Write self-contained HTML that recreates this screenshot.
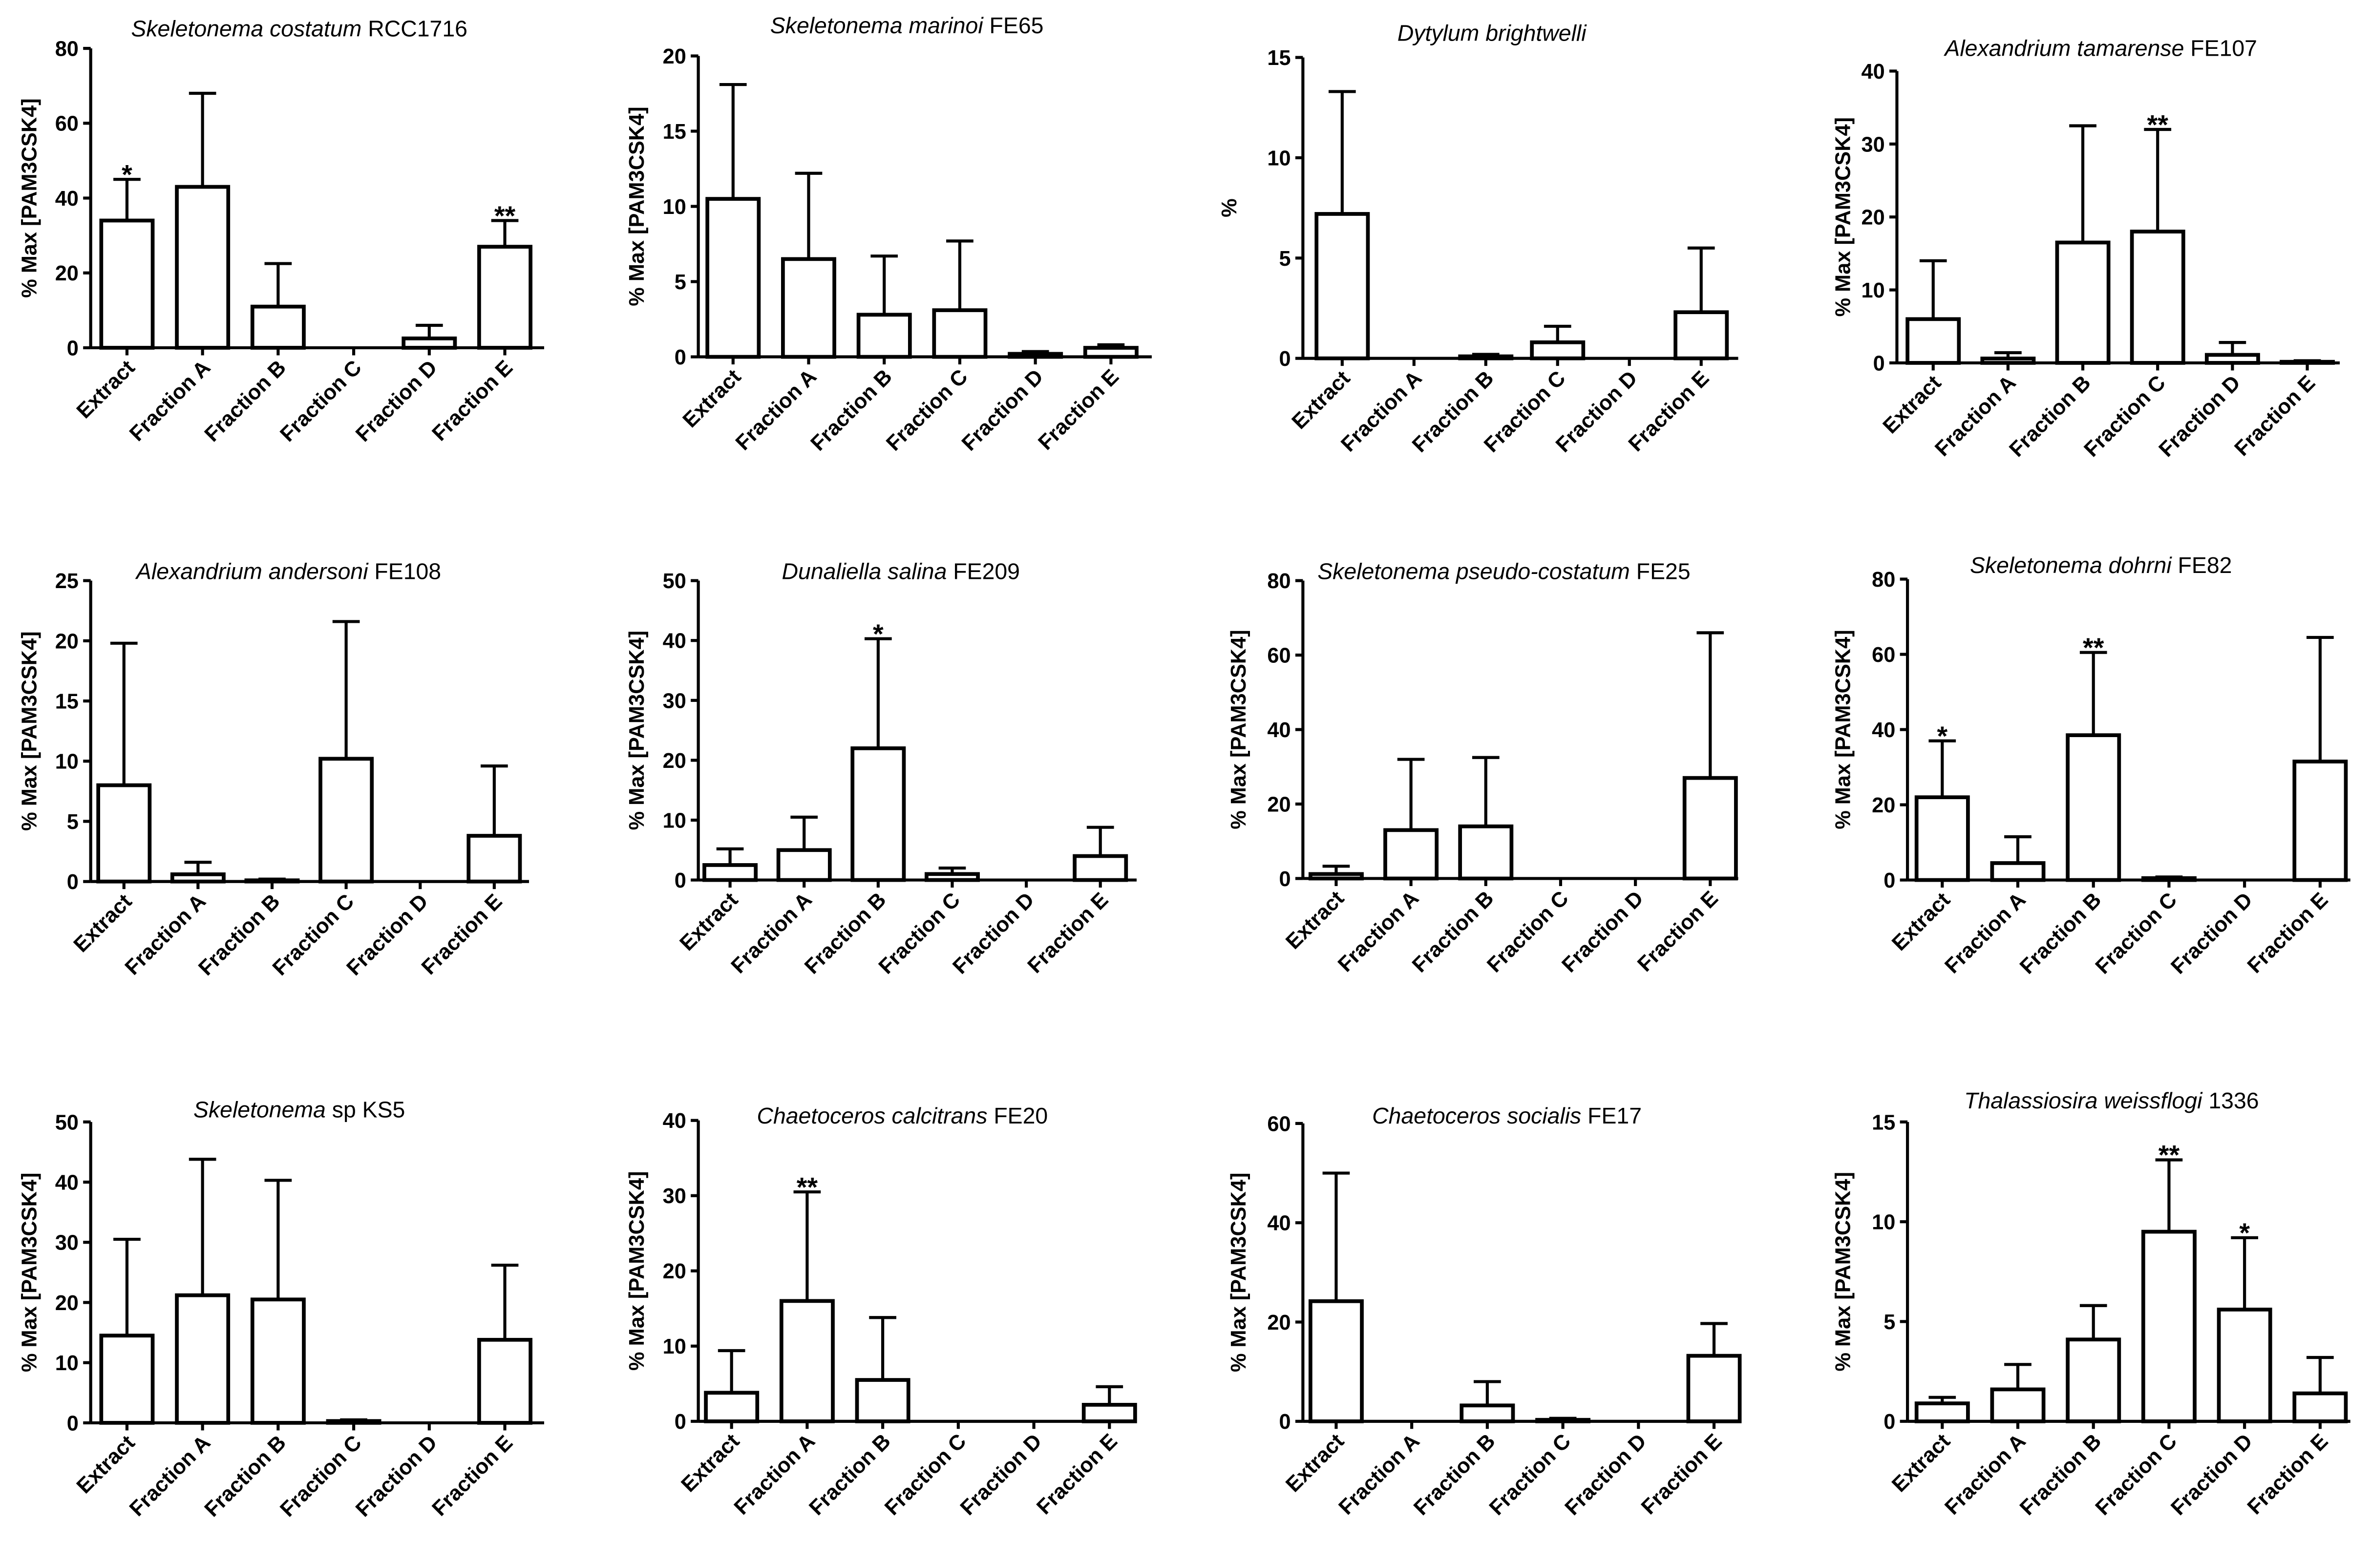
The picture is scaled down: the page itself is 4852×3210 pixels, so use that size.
<!DOCTYPE html>
<html><head><meta charset="utf-8"><style>
html,body{margin:0;padding:0;background:#fff;}
svg{display:block;}
text{font-family:"Liberation Sans",Arial,sans-serif;fill:#000;}
</style></head><body>
<svg id="fig" width="4852" height="3210" viewBox="0 0 1568 1037" preserveAspectRatio="none" xmlns="http://www.w3.org/2000/svg"></svg>
<script>
const categories = ["Extract","Fraction A","Fraction B","Fraction C","Fraction D","Fraction E"];
const titlesItalic = ["Skeletonema costatum","Skeletonema marinoi","Dytylum brightwelli","Alexandrium tamarense","Alexandrium andersoni","Dunaliella salina","Skeletonema pseudo-costatum","Skeletonema dohrni","Skeletonema","Chaetoceros calcitrans","Chaetoceros socialis","Thalassiosira weissflogi"];
const titlesPlain = ["RCC1716","FE65","","FE107","FE108","FE209","FE25","FE82","sp KS5","FE20","FE17","1336"];
const yMaxes = [80,20,15,40,25,50,80,80,50,40,60,15];
const yTickSteps = [20,5,5,10,5,10,20,20,10,10,20,5];
const means1 = [34,43,11,0,2.5,27];
const tops1 = [45,68,22.5,0,6,34];
const means2 = [10.5,6.5,2.8,3.1,0.2,0.6];
const tops2 = [18.1,12.2,6.7,7.7,0.35,0.8];
const means3 = [7.2,0,0.1,0.8,0,2.3];
const tops3 = [13.3,0,0.2,1.6,0,5.5];
const means4 = [6,0.6,16.5,18,1.1,0.15];
const tops4 = [14,1.4,32.5,32,2.8,0.3];
const means5 = [8,0.6,0.1,10.2,0,3.8];
const tops5 = [19.8,1.6,0.2,21.6,0,9.6];
const means6 = [2.5,5,22,1,0,4];
const tops6 = [5.2,10.5,40.3,2,0,8.8];
const means7 = [1.2,13,14,0,0,27];
const tops7 = [3.3,32,32.5,0,0,66];
const means8 = [22,4.5,38.5,0.5,0,31.5];
const tops8 = [37,11.5,60.5,0.8,0,64.5];
const means9 = [14.5,21.2,20.5,0.3,0,13.8];
const tops9 = [30.5,43.8,40.3,0.5,0,26.2];
const means10 = [3.8,16,5.5,0,0,2.2];
const tops10 = [9.4,30.5,13.8,0,0,4.6];
const means11 = [24.2,0,3.2,0.3,0,13.2];
const tops11 = [50,0,8,0.6,0,19.7];
const means12 = [0.9,1.6,4.1,9.5,5.6,1.4];
const tops12 = [1.2,2.85,5.8,13.1,9.2,3.2];
const stars = [["*","","","","","**"],["","","","","",""],["","","","","",""],["","","","**","",""],["","","","","",""],["","","*","","",""],["","","","","",""],["*","","**","","",""],["","","","","",""],["","**","","","",""],["","","","","",""],["","","","**","*",""]];
const allMeans=[means1,means2,means3,means4,means5,means6,means7,means8,means9,means10,means11,means12];
const allTops=[tops1,tops2,tops3,tops4,tops5,tops6,tops7,tops8,tops9,tops10,tops11,tops12];
// layout (display units)
const L=[
 {ax:60,top:32,bot:230,end:360,c0:84,dx:50,tx:198,ty:24,yl:"% Max [PAM3CSK4]",ylx:24},
 {ax:462,top:37,bot:236,end:762,c0:485,dx:50,tx:600,ty:22,yl:"% Max [PAM3CSK4]",ylx:426},
 {ax:862,top:38,bot:237,end:1150,c0:888,dx:47.5,tx:987,ty:27,yl:"%",ylx:818},
 {ax:1255,top:47,bot:240,end:1548,c0:1279,dx:49.5,tx:1390,ty:37,yl:"% Max [PAM3CSK4]",ylx:1224},
 {ax:60,top:384,bot:583,end:350,c0:82,dx:49,tx:191,ty:383,yl:"% Max [PAM3CSK4]",ylx:24},
 {ax:462,top:384,bot:582,end:752,c0:483,dx:49,tx:596,ty:383,yl:"% Max [PAM3CSK4]",ylx:426},
 {ax:862,top:384,bot:581,end:1150,c0:884,dx:49.5,tx:995,ty:383,yl:"% Max [PAM3CSK4]",ylx:824},
 {ax:1262,top:383,bot:582,end:1555,c0:1285,dx:50,tx:1390,ty:379,yl:"% Max [PAM3CSK4]",ylx:1224},
 {ax:60,top:742,bot:941,end:360,c0:84,dx:50,tx:198,ty:739,yl:"% Max [PAM3CSK4]",ylx:24},
 {ax:462,top:741,bot:940,end:752,c0:484,dx:50,tx:597,ty:743,yl:"% Max [PAM3CSK4]",ylx:426},
 {ax:862,top:743,bot:940,end:1150,c0:884,dx:50,tx:997,ty:743,yl:"% Max [PAM3CSK4]",ylx:824},
 {ax:1262,top:742,bot:940,end:1555,c0:1285,dx:50,tx:1397,ty:733,yl:"% Max [PAM3CSK4]",ylx:1224}
];
const NS="http://www.w3.org/2000/svg";
const svg=document.getElementById('fig');
function mk(tag,attrs,parent){const e=document.createElementNS(NS,tag);for(const k in attrs)e.setAttribute(k,attrs[k]);parent.appendChild(e);return e;}
L.forEach((p,i)=>{
 const g=mk('g',{},svg);
 
 
 const ymax=yMaxes[i];
 const y=v=>p.bot-(v/ymax)*(p.bot-p.top);
 const x=j=>p.c0+j*p.dx;
 // title
 const t=mk('text',{x:p.tx,y:p.ty,'font-size':15,'text-anchor':'middle'},g);
 
 
 const ti=mk('tspan',{'font-style':'italic'},t);ti.textContent=titlesItalic[i];
 if(titlesPlain[i]){const tp=mk('tspan',{},t);tp.textContent='  '+titlesPlain[i];}
 // y label
 const yl=mk('text',{x:0,y:0,'font-size':14,'font-weight':'bold','text-anchor':'middle',transform:`translate(${p.ylx},${(p.top+p.bot)/2}) rotate(-90)`},g);
 
 
 yl.textContent=p.yl;
 // axes
 const ya=mk('line',{x1:p.ax,y1:p.top,x2:p.ax,y2:p.bot,stroke:'#000','stroke-width':2},g);
 
 
 const xa=mk('line',{x1:p.ax,y1:p.bot,x2:p.end,y2:p.bot,stroke:'#000','stroke-width':2},g);
 
 
 for(let v=0;v<=ymax+1e-9;v+=yTickSteps[i]){
  mk('line',{x1:p.ax-5,y1:y(v),x2:p.ax,y2:y(v),stroke:'#000','stroke-width':2},g);
  const tl=mk('text',{x:p.ax-8,y:y(v)+5,'font-size':14,'font-weight':'bold','text-anchor':'end'},g);
  
  
  tl.textContent=v;
 }
 categories.forEach((c,j)=>{
  const m=allMeans[i][j], tp=allTops[i][j], cx=x(j);
  if(m>0){
   const r=mk('rect',{x:cx-17,y:y(m),width:34,height:p.bot-y(m),fill:'#fff',stroke:'#000','stroke-width':2.5},g);
   
   
  }
  if(tp>m){
   const e=mk('path',{d:`M${cx},${y(m)}V${y(tp)}M${cx-9},${y(tp)}H${cx+9}`,stroke:'#000','stroke-width':2,fill:'none'},g);
   
   
  }
  if(stars[i][j]){
   const s=mk('text',{x:cx,y:y(tp)+3,'font-size':18,'font-weight':'bold','text-anchor':'middle'},g);
   
   
   s.textContent=stars[i][j];
  }
  mk('line',{x1:cx,y1:p.bot,x2:cx,y2:p.bot+5,stroke:'#000','stroke-width':2},g);
  const xl=mk('text',{x:0,y:0,'font-size':14,'font-weight':'bold','text-anchor':'end',transform:`translate(${cx+6},${p.bot+14}) rotate(-45)`},g);
  
  
  xl.textContent=c;
 });
});
</script>
</body></html>
